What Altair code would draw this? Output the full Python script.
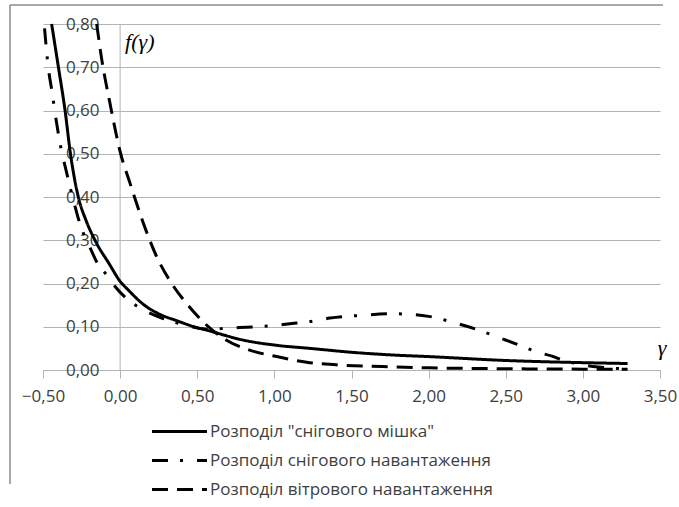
import altair as alt
import pandas as pd

# Series names (legend order)
S1 = 'Розподіл "снігового мішка"'
S2 = 'Розподіл снігового навантаження'
S3 = 'Розподіл вітрового навантаження'

# Solid: snow bag distribution
x1 = [-0.444, -0.40, -0.357, -0.322, -0.271, -0.22, -0.163, -0.07, 0.0, 0.05, 0.15, 0.25,
      0.367, 0.47, 0.583, 0.80, 1.015, 1.23, 1.5, 1.75, 2.0, 2.5, 3.0, 3.29]
y1 = [0.80, 0.70, 0.60, 0.50, 0.40, 0.345, 0.30, 0.245, 0.205, 0.186, 0.152, 0.13,
      0.114, 0.101, 0.090, 0.069, 0.057, 0.050, 0.041, 0.035, 0.031, 0.022, 0.017, 0.015]

# Dash-dot: snow load distribution
x2 = [-0.49, -0.466, -0.44, -0.42, -0.39, -0.346, -0.30, -0.256, -0.20, -0.141, -0.087, -0.033,
      0.03, 0.13, 0.27, 0.41, 0.58, 0.70, 0.82, 0.97, 1.10, 1.23, 1.36, 1.55, 1.77, 2.0,
      2.18, 2.32, 2.44, 2.57, 2.70, 2.80, 2.87, 3.0, 3.1, 3.2, 3.29]
y2 = [0.79, 0.70, 0.64, 0.59, 0.525, 0.455, 0.389, 0.333, 0.287, 0.243, 0.22, 0.193,
      0.169, 0.143, 0.12, 0.105, 0.094, 0.097, 0.099, 0.102, 0.107, 0.112, 0.12, 0.126, 0.13, 0.124,
      0.108, 0.093, 0.077, 0.06, 0.042, 0.032, 0.023, 0.012, 0.007, 0.004, 0.003]

# Dashed: wind load distribution
x3 = [-0.152, -0.12, -0.066, 0.0, 0.064, 0.15, 0.237, 0.334, 0.44, 0.56, 0.69, 0.84,
      1.015, 1.21, 1.4, 1.7, 2.0, 2.5, 3.0, 3.29]
y3 = [0.80, 0.72, 0.617, 0.505, 0.432, 0.34, 0.262, 0.20, 0.15, 0.104, 0.069, 0.046,
      0.031, 0.018, 0.012, 0.008, 0.005, 0.003, 0.002, 0.002]

x_ticks = [-0.5, 0.0, 0.5, 1.0, 1.5, 2.0, 2.5, 3.0, 3.5]
y_ticks = [0.0, 0.1, 0.2, 0.3, 0.4, 0.5, 0.6, 0.7, 0.8]

rows = []
for name, xs, ys in [(S1, x1, y1), (S2, x2, y2), (S3, x3, y3)]:
    for i, (a, b) in enumerate(zip(xs, ys)):
        rows.append({"series": name, "x": a, "y": b, "i": i})
df = pd.DataFrame(rows)

FONT = "Open Sans"
GRID = "#b4b4b4"
TXT = "#404040"
label_expr = "replace(format(datum.value, '.2f'), '.', ',')"

xscale = alt.Scale(domain=[-0.5, 3.5], nice=False, zero=False)
yscale = alt.Scale(domain=[0, 0.8], nice=False)

lines = alt.Chart(df).mark_line(color="black", strokeWidth=3, interpolate="monotone",
                                strokeCap="butt").encode(
    x=alt.X("x:Q", scale=xscale, title=None,
            axis=alt.Axis(values=x_ticks, grid=False, ticks=True, tickSize=8, tickColor=GRID,
                          domainColor=GRID, labelExpr=label_expr, labelFont=FONT,
                          labelFontSize=17, labelColor=TXT, labelPadding=10, labelFlush=False)),
    y=alt.Y("y:Q", scale=yscale, title=None,
            axis=alt.Axis(values=y_ticks, grid=True, gridColor=GRID, domain=False, ticks=False,
                          offset=-77, labelExpr=label_expr, labelFont=FONT, labelFontSize=17,
                          labelColor=TXT, labelPadding=21)),
    strokeDash=alt.StrokeDash("series:N",
        scale=alt.Scale(domain=[S1, S2, S3], range=[[1, 0], [16, 12, 3, 14], [16, 9]]),
        legend=alt.Legend(title=None, orient="none", legendX=128, legendY=399,
                          symbolType="M-5,0L5,0", symbolSize=121, symbolStrokeWidth=3,
                          symbolStrokeColor="black", symbolFillColor="transparent",
                          labelFont=FONT, labelFontSize=17,
                          labelColor=TXT, labelOffset=22, rowPadding=11, labelLimit=400)),
    order="i:Q",
)

yaxis_line = alt.Chart(pd.DataFrame({"x": [0.0]})).mark_rule(color=GRID, strokeWidth=1).encode(
    x=alt.X("x:Q", scale=xscale)
)

fg = alt.Chart(pd.DataFrame({"x": [0.032], "y": [0.758], "t": ["f(γ)"]})).mark_text(
    font="Liberation Serif", fontStyle="italic", fontSize=22, align="left", baseline="middle",
    color="black").encode(x=alt.X("x:Q", scale=xscale), y=alt.Y("y:Q", scale=yscale), text="t:N")

g = alt.Chart(pd.DataFrame({"x": [3.513], "y": [0.051], "t": ["γ"]})).mark_text(
    font="Liberation Serif", fontStyle="italic", fontSize=22, align="center", baseline="middle",
    color="black").encode(x=alt.X("x:Q", scale=xscale), y=alt.Y("y:Q", scale=yscale), text="t:N")

# outer chart border: top and left edges, kept inside the page
frame_top = alt.Chart(pd.DataFrame({"a": [0]})).mark_rule(color="#8c8c8c", strokeWidth=1.5).encode(
    x=alt.value(-33), x2=alt.value(620), y=alt.value(-19))
frame_left = alt.Chart(pd.DataFrame({"a": [0]})).mark_rule(color="#8c8c8c", strokeWidth=1.5).encode(
    x=alt.value(-33), y=alt.value(-19), y2=alt.value(460))

chart = alt.layer(yaxis_line, lines, fg, g, frame_top, frame_left).properties(
    width=617, height=346,
    autosize=alt.AutoSizeParams(type="none"),
    padding={"left": 43, "top": 24, "right": 19, "bottom": 130},
    background="white",
).configure_view(stroke=None)

chart.save("out.html", embed_options={"renderer": "svg", "actions": False})
